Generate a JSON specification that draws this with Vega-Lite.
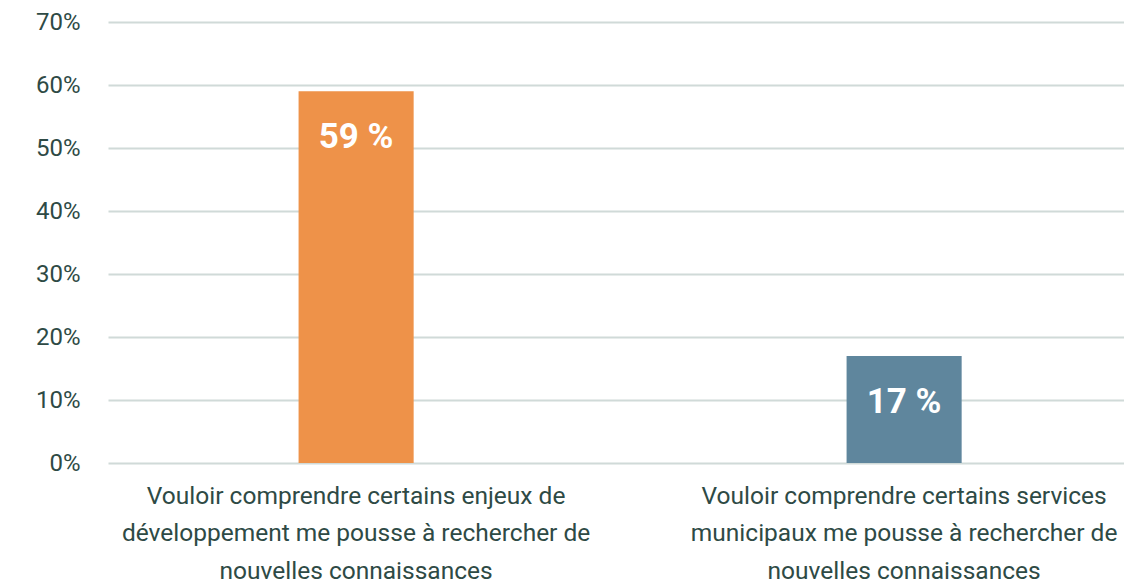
{
  "$schema": "https://vega.github.io/schema/vega-lite/v6.json",
  "autosize": "none",
  "width": 1016,
  "height": 441,
  "padding": {"left": 108, "top": 22, "right": 0, "bottom": 122},
  "background": "white",
  "config": {"view": {"stroke": null}, "font": "Roboto"},
  "data": {"values": [
    {"item": "Vouloir comprendre certains enjeux de|développement me pousse à rechercher de|nouvelles connaissances", "value": 0.59, "label": "59 %", "group": "enjeux"},
    {"item": "Vouloir comprendre certains services|municipaux me pousse à rechercher de|nouvelles connaissances", "value": 0.17, "label": "17 %", "group": "services"}
  ]},
  "encoding": {
    "x": {"field": "item", "type": "nominal", "sort": null,
      "scale": {"paddingInner": 0.79, "paddingOuter": 0.322, "align": 0.54},
      "axis": {"title": null, "labelAngle": 0, "ticks": false, "domain": false,
        "labelExpr": "split(datum.label, '|')", "labelFont": "Roboto", "labelFontSize": 24.5,
        "labelColor": "#2E4A45", "labelLineHeight": 37.5, "labelPadding": 21, "labelLimit": 700}},
    "y": {"field": "value", "type": "quantitative",
      "scale": {"domain": [0, 0.7]},
      "axis": {"title": null, "format": ".0%", "values": [0, 0.1, 0.2, 0.3, 0.4, 0.5, 0.6, 0.7],
        "labelOverlap": false, "ticks": false, "domain": false, "labelFont": "Roboto", "labelFontSize": 24,
        "labelColor": "#2E4A45", "labelPadding": 28, "gridColor": "#D0DAD8", "gridWidth": 2}}
  },
  "layer": [
    {"mark": {"type": "bar"},
     "encoding": {"color": {"field": "group", "type": "nominal", "legend": null,
        "scale": {"domain": ["enjeux", "services"], "range": ["#EE9249", "#5F869D"]}}}},
    {"mark": {"type": "text", "baseline": "alphabetic", "dy": 57, "font": "Roboto", "fontWeight": "bold", "fontSize": 35, "color": "white"},
     "encoding": {"text": {"field": "label"}}}
  ]
}
